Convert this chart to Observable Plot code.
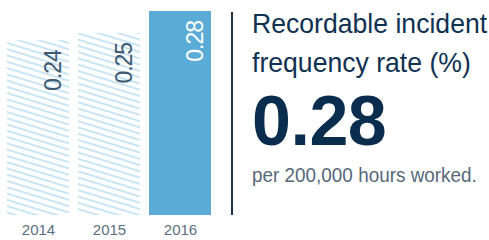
<!DOCTYPE html>
<html>
<head>
<meta charset="utf-8">
<script src="https://cdn.jsdelivr.net/npm/d3@7"></script>
<script src="https://cdn.jsdelivr.net/npm/@observablehq/plot@0.6"></script>
<style>
  html, body { margin: 0; padding: 0; background: #fff; }
  #wrap { position: relative; width: 489px; height: 240px; overflow: hidden; font-family: "Liberation Sans", Arial, sans-serif; }
  #chart { position: absolute; left: 0; top: 0; }
  #divider { position: absolute; left: 231px; top: 12px; width: 2px; height: 203px; background: #1b3452; }
  .t { position: absolute; left: 252px; white-space: nowrap; transform-origin: 0 0; }
  #title { top: 4px; font-size: 28px; line-height: 39px; color: #0f3152; transform: scaleX(0.95); }
  #big { top: 86px; font-size: 70px; line-height: 70px; font-weight: bold; color: #0b2d4d; letter-spacing: -0.5px; }
  #unit { top: 164px; font-size: 21px; line-height: 21px; color: #56687a; transform: scaleX(0.9); }
</style>
</head>
<body>
<div id="wrap">
  <div id="chart"></div>
  <div id="divider"></div>
  <div class="t" id="title">Recordable incident<br>frequency rate (%)</div>
  <div class="t" id="big">0.28</div>
  <div class="t" id="unit">per 200,000 hours worked.</div>
</div>
<script>
const years = ["2014", "2015", "2016"];
const rates = [0.24, 0.25, 0.28];
const highlight = ["2016"];

const table = years.map((year, i) => ({year, rate: rates[i], current: highlight.includes(year)}));

const chart = Plot.plot({
  width: 225,
  height: 240,
  marginLeft: 6,
  marginRight: 13,
  marginTop: 11,
  marginBottom: 25,
  style: {fontFamily: "'Liberation Sans', Arial, sans-serif", background: "transparent"},
  x: {domain: years, paddingInner: 0.12, paddingOuter: 0, axis: null},
  y: {domain: [0, 0.28], axis: null},
  marks: [
    Plot.barY(table.filter(d => !d.current), {x: "year", y: "rate", fill: "url(#hatch)"}),
    Plot.barY(table.filter(d => d.current), {x: "year", y: "rate", fill: "#5aacd6"}),
    Plot.text(table, {
      x: "year", y: "rate",
      text: d => d.rate.toFixed(2),
      rotate: -90, textAnchor: "end", lineAnchor: "middle",
      dx: 15.5, dy: 9.5,
      fontSize: 23,
      fill: d => d.current ? "#ffffff" : "#3d5a72"
    }),
    Plot.text(years, {
      x: d => d, text: d => d,
      frameAnchor: "bottom", lineAnchor: "top", dy: 9,
      fontSize: 15, fill: "#5b6f82"
    })
  ]
});

const svg = d3.select(chart);
const defs = svg.insert("defs", ":first-child");
const pat = defs.append("pattern")
  .attr("id", "hatch")
  .attr("patternUnits", "userSpaceOnUse")
  .attr("width", 12)
  .attr("height", 6)
  .attr("patternTransform", "rotate(17)");
pat.append("line")
  .attr("x1", -1).attr("x2", 13)
  .attr("y1", 3).attr("y2", 3)
  .attr("stroke", "#93cbea")
  .attr("stroke-width", 1);

svg.selectAll("text").filter(function() {
  return (this.getAttribute("transform") || "").includes("rotate");
}).style("letter-spacing", "-1px");

document.getElementById("chart").appendChild(chart);
</script>
</body>
</html>
